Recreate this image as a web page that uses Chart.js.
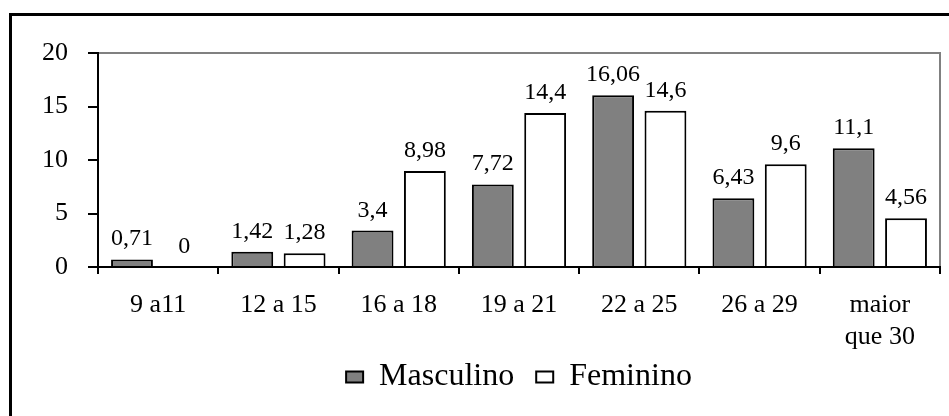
<!DOCTYPE html>
<html>
<head>
<meta charset="utf-8">
<script src="https://cdn.jsdelivr.net/npm/chart.js@4/dist/chart.umd.min.js"></script>
<style>
  html, body { margin: 0; padding: 0; background: #fff; overflow: hidden; }
  #wrap { width: 949px; height: 416px; }
</style>
</head>
<body>
<div id="wrap"><canvas id="grafico"></canvas></div>
<script>
// faixas etarias
const faixas = ["9 a11", "12 a 15", "16 a 18", "19 a 21", "22 a 25", "26 a 29", ["maior", "que 30"]];
const masculino = [0.71, 1.42, 3.4, 7.72, 16.06, 6.43, 11.1];
const feminino = [0, 1.28, 8.98, 14.4, 14.6, 9.6, 4.56];
const ticksY = [0, 5, 10, 15, 20];

const FONTE = "'Liberation Serif', 'Times New Roman', serif";

// moldura externa + borda cinza da area do grafico
const moldura = {
    id: "moldura",
    beforeDraw(chart) {
        const ctx = chart.ctx;
        const a = chart.chartArea;
        ctx.save();
        ctx.fillStyle = "#000";
        ctx.fillRect(9, 13, 3, chart.height);
        ctx.fillRect(9, 13, chart.width, 3);
        ctx.strokeStyle = "#808080";
        ctx.lineWidth = 2;
        ctx.beginPath();
        ctx.moveTo(a.left, a.top);
        ctx.lineTo(a.right, a.top);
        ctx.lineTo(a.right, a.bottom);
        ctx.stroke();
        ctx.restore();
    }
};

// legenda um pouco mais perto do eixo
const subirLegenda = {
    id: "subirLegenda",
    afterLayout(chart) {
        chart.legend.top -= 13;
        chart.legend.bottom -= 13;
    }
};

// valores em cima das barras (com virgula)
const rotulos = {
    id: "rotulos",
    afterDatasetsDraw(chart) {
        const ctx = chart.ctx;
        ctx.save();
        ctx.font = "24px " + FONTE;
        ctx.fillStyle = "#000";
        ctx.textAlign = "center";
        ctx.textBaseline = "alphabetic";
        chart.data.datasets.forEach((ds, i) => {
            chart.getDatasetMeta(i).data.forEach((bar, j) => {
                const txt = String(ds.data[j]).replace(".", ",");
                ctx.fillText(txt, bar.x, bar.y - 14);
            });
        });
        ctx.restore();
    }
};

new Chart(document.getElementById("grafico"), {
    type: "bar",
    data: {
        labels: faixas,
        datasets: [{
            label: "Masculino",
            data: masculino,
            backgroundColor: "#808080",
            borderColor: "#000",
            borderWidth: 2,
            categoryPercentage: 0.87,
            barPercentage: 0.8
        }, {
            label: "Feminino",
            data: feminino,
            backgroundColor: "#fff",
            borderColor: "#000",
            borderWidth: 2,
            categoryPercentage: 0.87,
            barPercentage: 0.8
        }]
    },
    options: {
        responsive: true,
        maintainAspectRatio: false,
        animation: false,
        layout: { padding: { top: 53, right: 9, left: 0, bottom: 0 } },
        plugins: {
            tooltip: { enabled: false },
            legend: {
                position: "bottom",
                fullSize: false,
                labels: {
                    font: { family: FONTE, size: 32 },
                    color: "#000",
                    boxWidth: 17,
                    boxHeight: 11,
                    padding: 22
                }
            }
        },
        scales: {
            y: {
                min: 0,
                max: 20,
                afterBuildTicks: s => { s.ticks = ticksY.map(v => ({ value: v })); },
                afterFit: s => { s.width = 98; },
                ticks: {
                    font: { family: FONTE, size: 26 },
                    color: "#000",
                    padding: 20
                },
                grid: { drawOnChartArea: false, tickLength: 10, color: "#000", lineWidth: 2 },
                border: { color: "#000", width: 2 }
            },
            x: {
                afterFit: s => { s.height = 85; },
                ticks: {
                    font: { family: FONTE, size: 26, lineHeight: 1.2 },
                    color: "#000",
                    padding: 16,
                    maxRotation: 0
                },
                grid: { drawOnChartArea: false, tickLength: 7, color: "#000", lineWidth: 2, offset: true },
                border: { color: "#000", width: 2 }
            }
        }
    },
    plugins: [moldura, subirLegenda, rotulos]
});
</script>
</body>
</html>
